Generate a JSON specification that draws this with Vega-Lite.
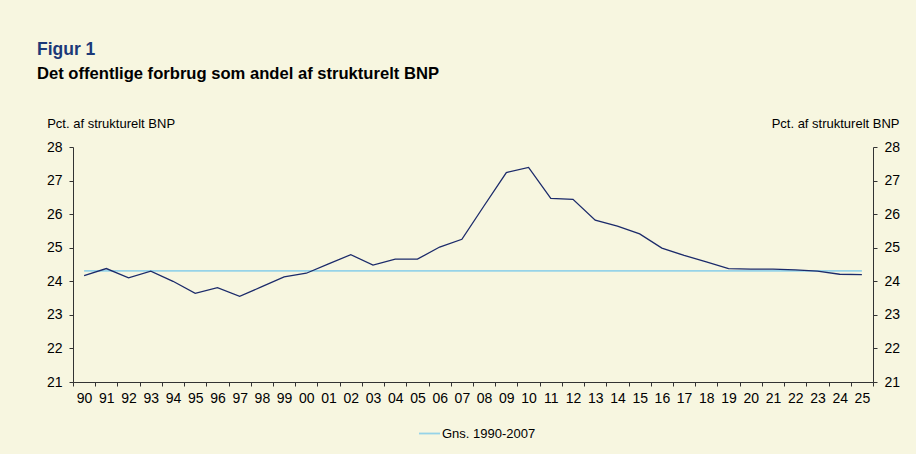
{
  "$schema": "https://vega.github.io/schema/vega-lite/v6.json",
  "width": 800,
  "height": 235,
  "autosize": {"type": "none"},
  "padding": {"left": 73, "top": 147, "right": 43, "bottom": 72},
  "background": "#F7F6E0",
  "title": {
    "text": "Figur 1",
    "subtitle": "Det offentlige forbrug som andel af strukturelt BNP",
    "anchor": "start",
    "frame": "group",
    "dx": -36,
    "offset": 34,
    "font": "Liberation Sans",
    "fontSize": 17.5,
    "fontWeight": "bold",
    "color": "#1c3978",
    "subtitleFont": "Liberation Sans",
    "subtitleFontSize": 16.6,
    "subtitleFontWeight": "bold",
    "subtitleColor": "#000000",
    "subtitlePadding": 8
  },
  "data": {
    "values": [
      {"yr": "90", "value": 24.17, "avg": 24.31},
      {"yr": "91", "value": 24.38, "avg": 24.31},
      {"yr": "92", "value": 24.10, "avg": 24.31},
      {"yr": "93", "value": 24.30, "avg": 24.31},
      {"yr": "94", "value": 24.00, "avg": 24.31},
      {"yr": "95", "value": 23.64, "avg": 24.31},
      {"yr": "96", "value": 23.81, "avg": 24.31},
      {"yr": "97", "value": 23.55, "avg": 24.31},
      {"yr": "98", "value": 23.84, "avg": 24.31},
      {"yr": "99", "value": 24.13, "avg": 24.31},
      {"yr": "00", "value": 24.24, "avg": 24.31},
      {"yr": "01", "value": 24.52, "avg": 24.31},
      {"yr": "02", "value": 24.79, "avg": 24.31},
      {"yr": "03", "value": 24.48, "avg": 24.31},
      {"yr": "04", "value": 24.66, "avg": 24.31},
      {"yr": "05", "value": 24.66, "avg": 24.31},
      {"yr": "06", "value": 25.02, "avg": 24.31},
      {"yr": "07", "value": 25.25, "avg": 24.31},
      {"yr": "08", "value": 26.25, "avg": 24.31},
      {"yr": "09", "value": 27.24, "avg": 24.31},
      {"yr": "10", "value": 27.39, "avg": 24.31},
      {"yr": "11", "value": 26.47, "avg": 24.31},
      {"yr": "12", "value": 26.44, "avg": 24.31},
      {"yr": "13", "value": 25.82, "avg": 24.31},
      {"yr": "14", "value": 25.64, "avg": 24.31},
      {"yr": "15", "value": 25.41, "avg": 24.31},
      {"yr": "16", "value": 24.99, "avg": 24.31},
      {"yr": "17", "value": 24.77, "avg": 24.31},
      {"yr": "18", "value": 24.58, "avg": 24.31},
      {"yr": "19", "value": 24.38, "avg": 24.31},
      {"yr": "20", "value": 24.36, "avg": 24.31},
      {"yr": "21", "value": 24.36, "avg": 24.31},
      {"yr": "22", "value": 24.34, "avg": 24.31},
      {"yr": "23", "value": 24.30, "avg": 24.31},
      {"yr": "24", "value": 24.21, "avg": 24.31},
      {"yr": "25", "value": 24.20, "avg": 24.31}
    ]
  },
  "encoding": {
    "x": {
      "field": "yr",
      "type": "ordinal",
      "sort": null,
      "scale": {"type": "band", "paddingInner": 0, "paddingOuter": 0},
      "axis": {
        "title": null,
        "labelAngle": 0,
        "tickBand": "extent",
        "tickSize": 4,
        "labelPadding": 5
      }
    }
  },
  "layer": [
    {
      "mark": {"type": "line", "strokeWidth": 1.8},
      "encoding": {
        "y": {
          "field": "avg",
          "type": "quantitative",
          "scale": {"domain": [21, 28], "nice": false, "zero": false},
          "axis": {
            "orient": "right",
            "values": [21, 22, 23, 24, 25, 26, 27, 28],
            "tickSize": 4,
            "labelPadding": 7,
            "title": "Pct. af strukturelt BNP",
            "titleAngle": 0,
            "titleAlign": "right",
            "titleBaseline": "alphabetic",
            "titleX": 26,
            "titleY": -20
          }
        },
        "color": {
          "datum": "Gns. 1990-2007",
          "scale": {"range": ["#96d3e8"]},
          "legend": {
            "orient": "none",
            "legendX": 345,
            "legendY": 275,
            "title": null,
            "symbolType": "stroke",
            "symbolSize": 441,
            "symbolStrokeWidth": 1.8,
            "labelFontSize": 13,
            "labelOffset": 1
          }
        }
      }
    },
    {
      "mark": {"type": "line", "strokeWidth": 1.3, "color": "#1b2a6a"},
      "encoding": {
        "y": {
          "field": "value",
          "type": "quantitative",
          "scale": {"domain": [21, 28], "nice": false, "zero": false},
          "axis": {
            "orient": "left",
            "values": [21, 22, 23, 24, 25, 26, 27, 28],
            "tickSize": 4,
            "labelPadding": 7,
            "title": "Pct. af strukturelt BNP",
            "titleAngle": 0,
            "titleAlign": "left",
            "titleBaseline": "alphabetic",
            "titleX": -26.3,
            "titleY": -20
          }
        }
      }
    }
  ],
  "resolve": {"scale": {"y": "independent"}},
  "config": {
    "view": {"stroke": null},
    "font": "Liberation Sans",
    "axis": {
      "grid": false,
      "domainColor": "#333333",
      "tickColor": "#333333",
      "labelColor": "#000000",
      "labelFont": "Liberation Sans",
      "labelFontSize": 14,
      "titleFont": "Liberation Sans",
      "titleFontSize": 13,
      "titleFontWeight": "normal",
      "titleColor": "#000000"
    },
    "legend": {
      "labelFont": "Liberation Sans",
      "labelColor": "#000000"
    }
  }
}
